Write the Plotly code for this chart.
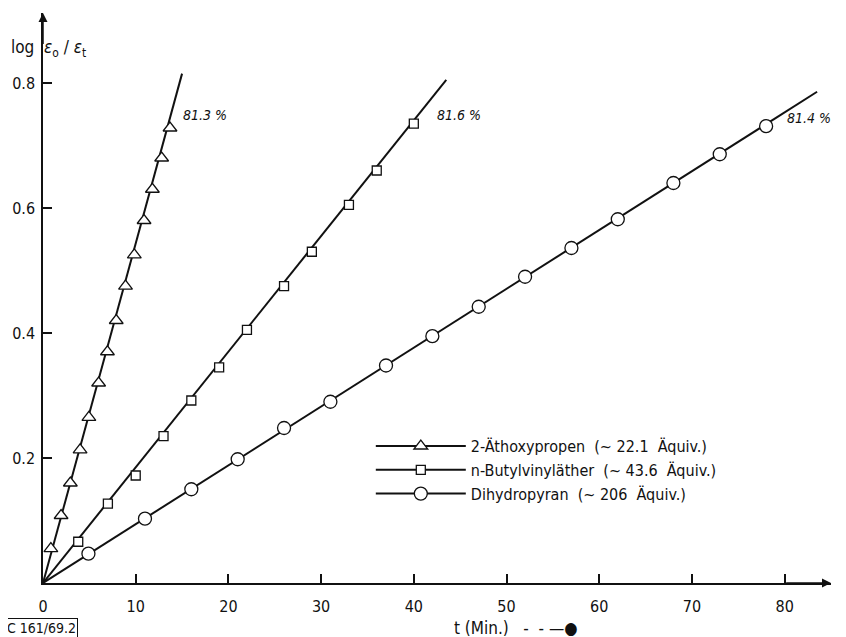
import plotly.graph_objects as go

# ---- data ----
t_tri = [0.85, 1.95, 2.95, 4.0, 4.95, 6.0, 6.95, 7.9, 8.9, 9.85, 10.9, 11.8, 12.8, 13.7]
y_tri = [0.055, 0.108, 0.160, 0.213, 0.265, 0.320, 0.370, 0.420, 0.475, 0.525, 0.580, 0.630, 0.680, 0.728]

t_sq = [3.8, 7.0, 10.0, 13.0, 16.0, 19.0, 22.0, 26.0, 29.0, 33.0, 36.0, 40.0]
y_sq = [0.066, 0.127, 0.172, 0.235, 0.292, 0.345, 0.405, 0.475, 0.530, 0.605, 0.660, 0.735]

t_ci = [4.9, 11.0, 16.0, 21.0, 26.0, 31.0, 37.0, 42.0, 47.0, 52.0, 57.0, 62.0, 68.0, 73.0, 78.0]
y_ci = [0.047, 0.103, 0.150, 0.198, 0.248, 0.290, 0.348, 0.395, 0.442, 0.490, 0.536, 0.582, 0.640, 0.686, 0.731]

# fitted straight lines (start, end)
fit_tri_t = [0, 15.0]
fit_tri_y = [0, 0.815]
fit_sq_t = [0, 43.5]
fit_sq_y = [0, 0.805]
fit_ci_t = [0, 83.5]
fit_ci_y = [0, 0.786]

names = ["2-Äthoxypropen  (~ 22.1  Äquiv.)",
         "n-Butylvinyläther  (~ 43.6  Äquiv.)",
         "Dihydropyran  (~ 206  Äquiv.)"]
pct_labels = ["81.3 %", "81.6 %", "81.4 %"]
pct_pos_t = [14.9, 42.3, 80.0]
pct_pos_y = [0.749, 0.749, 0.744]

x_ticks = [0, 10, 20, 30, 40, 50, 60, 70, 80]
y_ticks = [0.2, 0.4, 0.6, 0.8]

FONT = "Liberation Sans Narrow, DejaVu Sans Condensed, Liberation Sans, Arial, sans-serif"
BLACK = "#111111"

fig = go.Figure()

series = [
    (t_tri, y_tri, fit_tri_t, fit_tri_y, "triangle-up", 12),
    (t_sq, y_sq, fit_sq_t, fit_sq_y, "square", 9),
    (t_ci, y_ci, fit_ci_t, fit_ci_y, "circle", 13),
]

for (tt, yy, ft, fy, sym, sz), nm in zip(series, names):
    fig.add_trace(go.Scatter(x=ft, y=fy, mode="lines",
                             line=dict(color=BLACK, width=2),
                             showlegend=False, hoverinfo="skip", cliponaxis=False))
    fig.add_trace(go.Scatter(x=tt, y=yy, mode="markers",
                             marker=dict(symbol=sym, size=sz, color="white",
                                         line=dict(color=BLACK, width=1.3)),
                             showlegend=False, cliponaxis=False))
    # legend entry
    fig.add_trace(go.Scatter(x=[None], y=[None], mode="lines+markers", name=nm,
                             line=dict(color=BLACK, width=2),
                             marker=dict(symbol=sym, size=sz, color="white",
                                         line=dict(color=BLACK, width=1.3))))

for txt, px, py in zip(pct_labels, pct_pos_t, pct_pos_y):
    fig.add_annotation(x=px, y=py, xref="x", yref="y", text=f"<i>{txt}</i>",
                       showarrow=False, xanchor="left", yanchor="middle",
                       font=dict(family=FONT, size=14, color=BLACK))

# axis arrows
fig.add_annotation(x=85, y=0, ax=80, ay=0, xref="x", yref="y", axref="x", ayref="y",
                   text="", showarrow=True, arrowhead=2, arrowsize=1.2, arrowwidth=1.5,
                   arrowcolor=BLACK)
fig.add_annotation(x=0, y=0.912, ax=0, ay=0.86, xref="x", yref="y", axref="x", ayref="y",
                   text="", showarrow=True, arrowhead=2, arrowsize=1.2, arrowwidth=1.5,
                   arrowcolor=BLACK)

# y-axis title
fig.add_annotation(x=0, y=0.856, xref="paper", yref="y", xanchor="left", yanchor="middle",
                   xshift=-34, text="log  <i>ε</i><sub>o</sub> / <i>ε</i><sub>t</sub>",
                   showarrow=False, font=dict(family=FONT, size=17, color=BLACK))
# x-axis title
fig.add_annotation(x=51, y=0, xref="x", yref="paper", yshift=-45, yanchor="middle",
                   text="t (Min.)   -  - —●", showarrow=False,
                   font=dict(family=FONT, size=17, color=BLACK))
# figure code box
fig.add_annotation(x=0, y=0, xref="paper", yref="paper", xshift=-38, yshift=-45,
                   xanchor="left", yanchor="middle", text="C 161/69.2", showarrow=False,
                   bordercolor=BLACK, borderwidth=1, borderpad=1,
                   font=dict(family=FONT, size=14, color=BLACK))

fig.update_xaxes(range=[0, 85], tickvals=x_ticks, ticktext=[str(v) for v in x_ticks],
                 showgrid=False, zeroline=False, showline=True, linecolor=BLACK, linewidth=1.5,
                 ticks="inside", ticklen=9, tickwidth=1.5, tickcolor=BLACK,
                 ticklabelstandoff=8,
                 tickfont=dict(family=FONT, size=16, color=BLACK))
fig.update_yaxes(range=[0, 0.912], tickvals=y_ticks, ticktext=[str(v) for v in y_ticks],
                 showgrid=False, zeroline=False, showline=True, linecolor=BLACK, linewidth=1.5,
                 ticks="inside", ticklen=9, tickwidth=1.5, tickcolor=BLACK,
                 ticklabelstandoff=3,
                 tickfont=dict(family=FONT, size=16, color=BLACK))

fig.update_layout(
    width=846, height=637,
    margin=dict(l=35, r=23, t=5, b=62),
    plot_bgcolor="white", paper_bgcolor="white",
    showlegend=True,
    legend=dict(x=0.416, y=0.27, xanchor="left", yanchor="top",
                bgcolor="rgba(0,0,0,0)", itemwidth=90, tracegroupgap=0,
                font=dict(family=FONT, size=16, color=BLACK)),
)

fig.write_html("out.html")
